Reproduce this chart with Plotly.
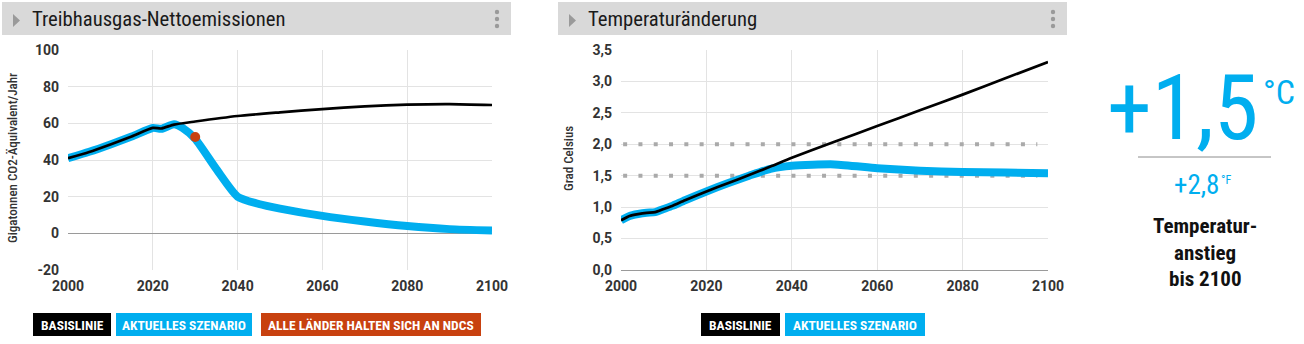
import plotly.graph_objects as go

W, H = 1304, 344

# ---------------- data ----------------
years_e = [2000, 2005, 2010, 2015, 2020, 2022, 2025, 2030, 2040, 2050, 2060, 2070, 2080, 2090, 2100]
baseline_e = [41, 44.4, 48.5, 52.8, 57.5, 57.2, 59.3, 61, 64, 66, 67.8, 69.3, 70.2, 70.5, 70]
years_ec = [2000, 2005, 2010, 2015, 2020, 2022, 2025, 2027, 2030, 2035, 2040, 2045, 2050, 2060, 2070, 2080, 2090, 2100]
current_e = [41, 44.5, 48.5, 52.8, 57.5, 57.0, 59.5, 57.5, 51.5, 35, 20, 16, 13.5, 9.5, 6.5, 4, 2.3, 1.6]
ndc_year = [2030]
ndc_value = [52.5]

years_t = [2000, 2002, 2004, 2006, 2008, 2010, 2012, 2015, 2020, 2025, 2030, 2035, 2040, 2050, 2060, 2070, 2080, 2090, 2100]
baseline_t = [0.79, 0.86, 0.89, 0.91, 0.92, 0.97, 1.02, 1.11, 1.25, 1.38, 1.51, 1.645, 1.785, 2.04, 2.29, 2.54, 2.79, 3.05, 3.31]
current_t = [0.79, 0.86, 0.89, 0.91, 0.92, 0.97, 1.02, 1.11, 1.25, 1.38, 1.50, 1.61, 1.66, 1.68, 1.62, 1.58, 1.56, 1.55, 1.54]
targets_t = [2.0, 1.5]
target_x = [2000.5, 2097.5]

x_ticks = [2000, 2020, 2040, 2060, 2080, 2100]
y_ticks_e = [-20, 0, 20, 40, 60, 80, 100]
y_ticktext_e = ["-20", "0", "20", "40", "60", "80", "100"]
y_ticks_t = [0, 0.5, 1.0, 1.5, 2.0, 2.5, 3.0, 3.5]
y_ticktext_t = ["0,0", "0,5", "1,0", "1,5", "2,0", "2,5", "3,0", "3,5"]

titles = ["Treibhausgas-Nettoemissionen", "Temperaturänderung"]
legend_left = ["BASISLINIE", "AKTUELLES SZENARIO", "ALLE LÄNDER HALTEN SICH AN NDCS"]
legend_right = ["BASISLINIE", "AKTUELLES SZENARIO"]

CYAN = "#00aeef"
BLACK = "#000000"
ORANGE = "#c8410f"
COND = "Roboto Condensed, Liberation Sans Narrow, Roboto, Arial"


def px(x):
    return x / W


def py(y):
    return 1 - y / H


fig = go.Figure()

# left chart
fig.add_trace(go.Scatter(x=years_ec, y=current_e, mode="lines", line=dict(color=CYAN, width=8, shape="spline", smoothing=0.6),
                         xaxis="x", yaxis="y", hoverinfo="skip"))
fig.add_trace(go.Scatter(x=years_e, y=baseline_e, mode="lines", line=dict(color=BLACK, width=2.7, shape="spline", smoothing=0.6),
                         xaxis="x", yaxis="y", hoverinfo="skip"))
fig.add_trace(go.Scatter(x=ndc_year, y=ndc_value, mode="markers", marker=dict(color=ORANGE, size=10),
                         xaxis="x", yaxis="y", hoverinfo="skip"))

# right chart
for t in targets_t:
    fig.add_trace(go.Scatter(x=target_x, y=[t, t], mode="lines",
                             line=dict(color="#aaaaaa", width=4, dash="4px,11.3px"),
                             xaxis="x2", yaxis="y2", hoverinfo="skip"))
fig.add_trace(go.Scatter(x=years_t, y=current_t, mode="lines", line=dict(color=CYAN, width=8, shape="spline", smoothing=0.6),
                         xaxis="x2", yaxis="y2", hoverinfo="skip"))
fig.add_trace(go.Scatter(x=years_t, y=baseline_t, mode="lines", line=dict(color=BLACK, width=2.7, shape="spline", smoothing=0.6),
                         xaxis="x2", yaxis="y2", hoverinfo="skip"))

tickfont = dict(family="Roboto", size=14, color="#333333", weight="bold")
grid = "#e3e3e3"

xax = dict(range=[2000, 2100], tickvals=x_ticks, showgrid=True, gridcolor=grid, zeroline=False,
           showline=False, ticks="", tickfont=tickfont, ticklabelstandoff=6, fixedrange=True, automargin=False)
fig.update_layout(
    width=W, height=H, margin=dict(l=0, r=0, t=0, b=0, pad=0, autoexpand=False),
    paper_bgcolor="white", plot_bgcolor="white", showlegend=False,
    xaxis=dict(xax, domain=[px(68), px(492)], anchor="y"),
    yaxis=dict(range=[-20, 100], tickvals=y_ticks_e, ticktext=y_ticktext_e, domain=[py(270), py(50)],
               showgrid=True, gridcolor=grid, zeroline=True, zerolinecolor="#9a9a9a", zerolinewidth=1,
               tickfont=tickfont, ticks="", ticklabelstandoff=8, anchor="x", automargin=False),
    xaxis2=dict(xax, domain=[px(621), px(1048)], anchor="y2"),
    yaxis2=dict(range=[0, 3.5], tickvals=y_ticks_t, ticktext=y_ticktext_t, domain=[py(270), py(50)],
                showgrid=True, gridcolor=grid, zeroline=True, zerolinecolor="#9a9a9a", zerolinewidth=1,
                tickfont=tickfont, ticks="", ticklabelstandoff=8, anchor="x2", automargin=False),
)

shapes = []
annotations = []

# title bars
for (x0, x1, title) in [(2, 511, titles[0]), (558, 1067, titles[1])]:
    shapes.append(dict(type="rect", xref="paper", yref="paper", x0=px(x0), x1=px(x1), y0=py(35), y1=py(2),
                       fillcolor="#d9d9d9", line=dict(width=0), layer="below"))
    tx = x0 + 11
    shapes.append(dict(type="path", xref="paper", yref="paper",
                       path=f"M {px(tx)} {py(14)} L {px(tx + 7)} {py(20.5)} L {px(tx)} {py(27)} Z",
                       fillcolor="#9a9a9a", line=dict(width=0)))
    for dy in [12, 19, 26]:
        cx = x1 - 14
        shapes.append(dict(type="circle", xref="paper", yref="paper", x0=px(cx - 2.2), x1=px(cx + 2.2),
                           y0=py(dy + 2.2), y1=py(dy - 2.2), fillcolor="#9a9a9a", line=dict(width=0)))
    annotations.append(dict(xref="paper", yref="paper", x=px(x0 + 28), y=py(19), xanchor="left", yanchor="middle",
                            text=title, showarrow=False, font=dict(family=COND, size=20.7, color="#1a1a1a")))

# legend boxes
def legend_box(x0, x1, text, color):
    shapes.append(dict(type="rect", xref="paper", yref="paper", x0=px(x0), x1=px(x1), y0=py(336), y1=py(313),
                       fillcolor=color, line=dict(width=0)))
    annotations.append(dict(xref="paper", yref="paper", x=px((x0 + x1) / 2), y=py(324.5), xanchor="center",
                            yanchor="middle", text=text, showarrow=False,
                            font=dict(family=COND, size=13.5, color="white", weight="bold")))

legend_box(33, 111, legend_left[0], BLACK)
legend_box(116, 252, legend_left[1], CYAN)
legend_box(261, 481, legend_left[2], ORANGE)
legend_box(701, 780, legend_right[0], BLACK)
legend_box(785, 925, legend_right[1], CYAN)

# y-axis titles
annotations.append(dict(xref="paper", yref="paper", x=px(13), y=py(158), text="Gigatonnen CO2-Äquivalent/Jahr",
                        textangle=-90, showarrow=False, xanchor="center", yanchor="middle",
                        font=dict(family=COND, size=13, color="#333333", weight=500)))
annotations.append(dict(xref="paper", yref="paper", x=px(569), y=py(159), text="Grad Celsius",
                        textangle=-90, showarrow=False, xanchor="center", yanchor="middle",
                        font=dict(family=COND, size=13, color="#333333", weight=500)))

# right panel
annotations.append(dict(xref="paper", yref="paper", x=px(1260), y=py(108), text="+1,5", showarrow=False,
                        xanchor="right", yanchor="middle", font=dict(family=COND, size=90, color=CYAN)))
annotations.append(dict(xref="paper", yref="paper", x=px(1261), y=py(92), text="°C", showarrow=False,
                        xanchor="left", yanchor="middle", font=dict(family=COND, size=34, color=CYAN)))
shapes.append(dict(type="line", xref="paper", yref="paper", x0=px(1138), x1=px(1271), y0=py(157), y1=py(157),
                   line=dict(color="#8c8c8c", width=1)))
annotations.append(dict(xref="paper", yref="paper", x=px(1221), y=py(185), text="+2,8", showarrow=False,
                        xanchor="right", yanchor="middle", font=dict(family=COND, size=27, color=CYAN)))
annotations.append(dict(xref="paper", yref="paper", x=px(1219), y=py(180), text="°F", showarrow=False,
                        xanchor="left", yanchor="middle", font=dict(family=COND, size=12, color=CYAN)))
for txt, yy in [("Temperatur-", 226), ("anstieg", 253), ("bis 2100", 279)]:
    annotations.append(dict(xref="paper", yref="paper", x=px(1205), y=py(yy), text=txt, showarrow=False,
                            xanchor="center", yanchor="middle",
                            font=dict(family=COND, size=21, color="#111111", weight="bold")))

fig.update_layout(shapes=shapes, annotations=annotations)
fig.write_html("out.html")
